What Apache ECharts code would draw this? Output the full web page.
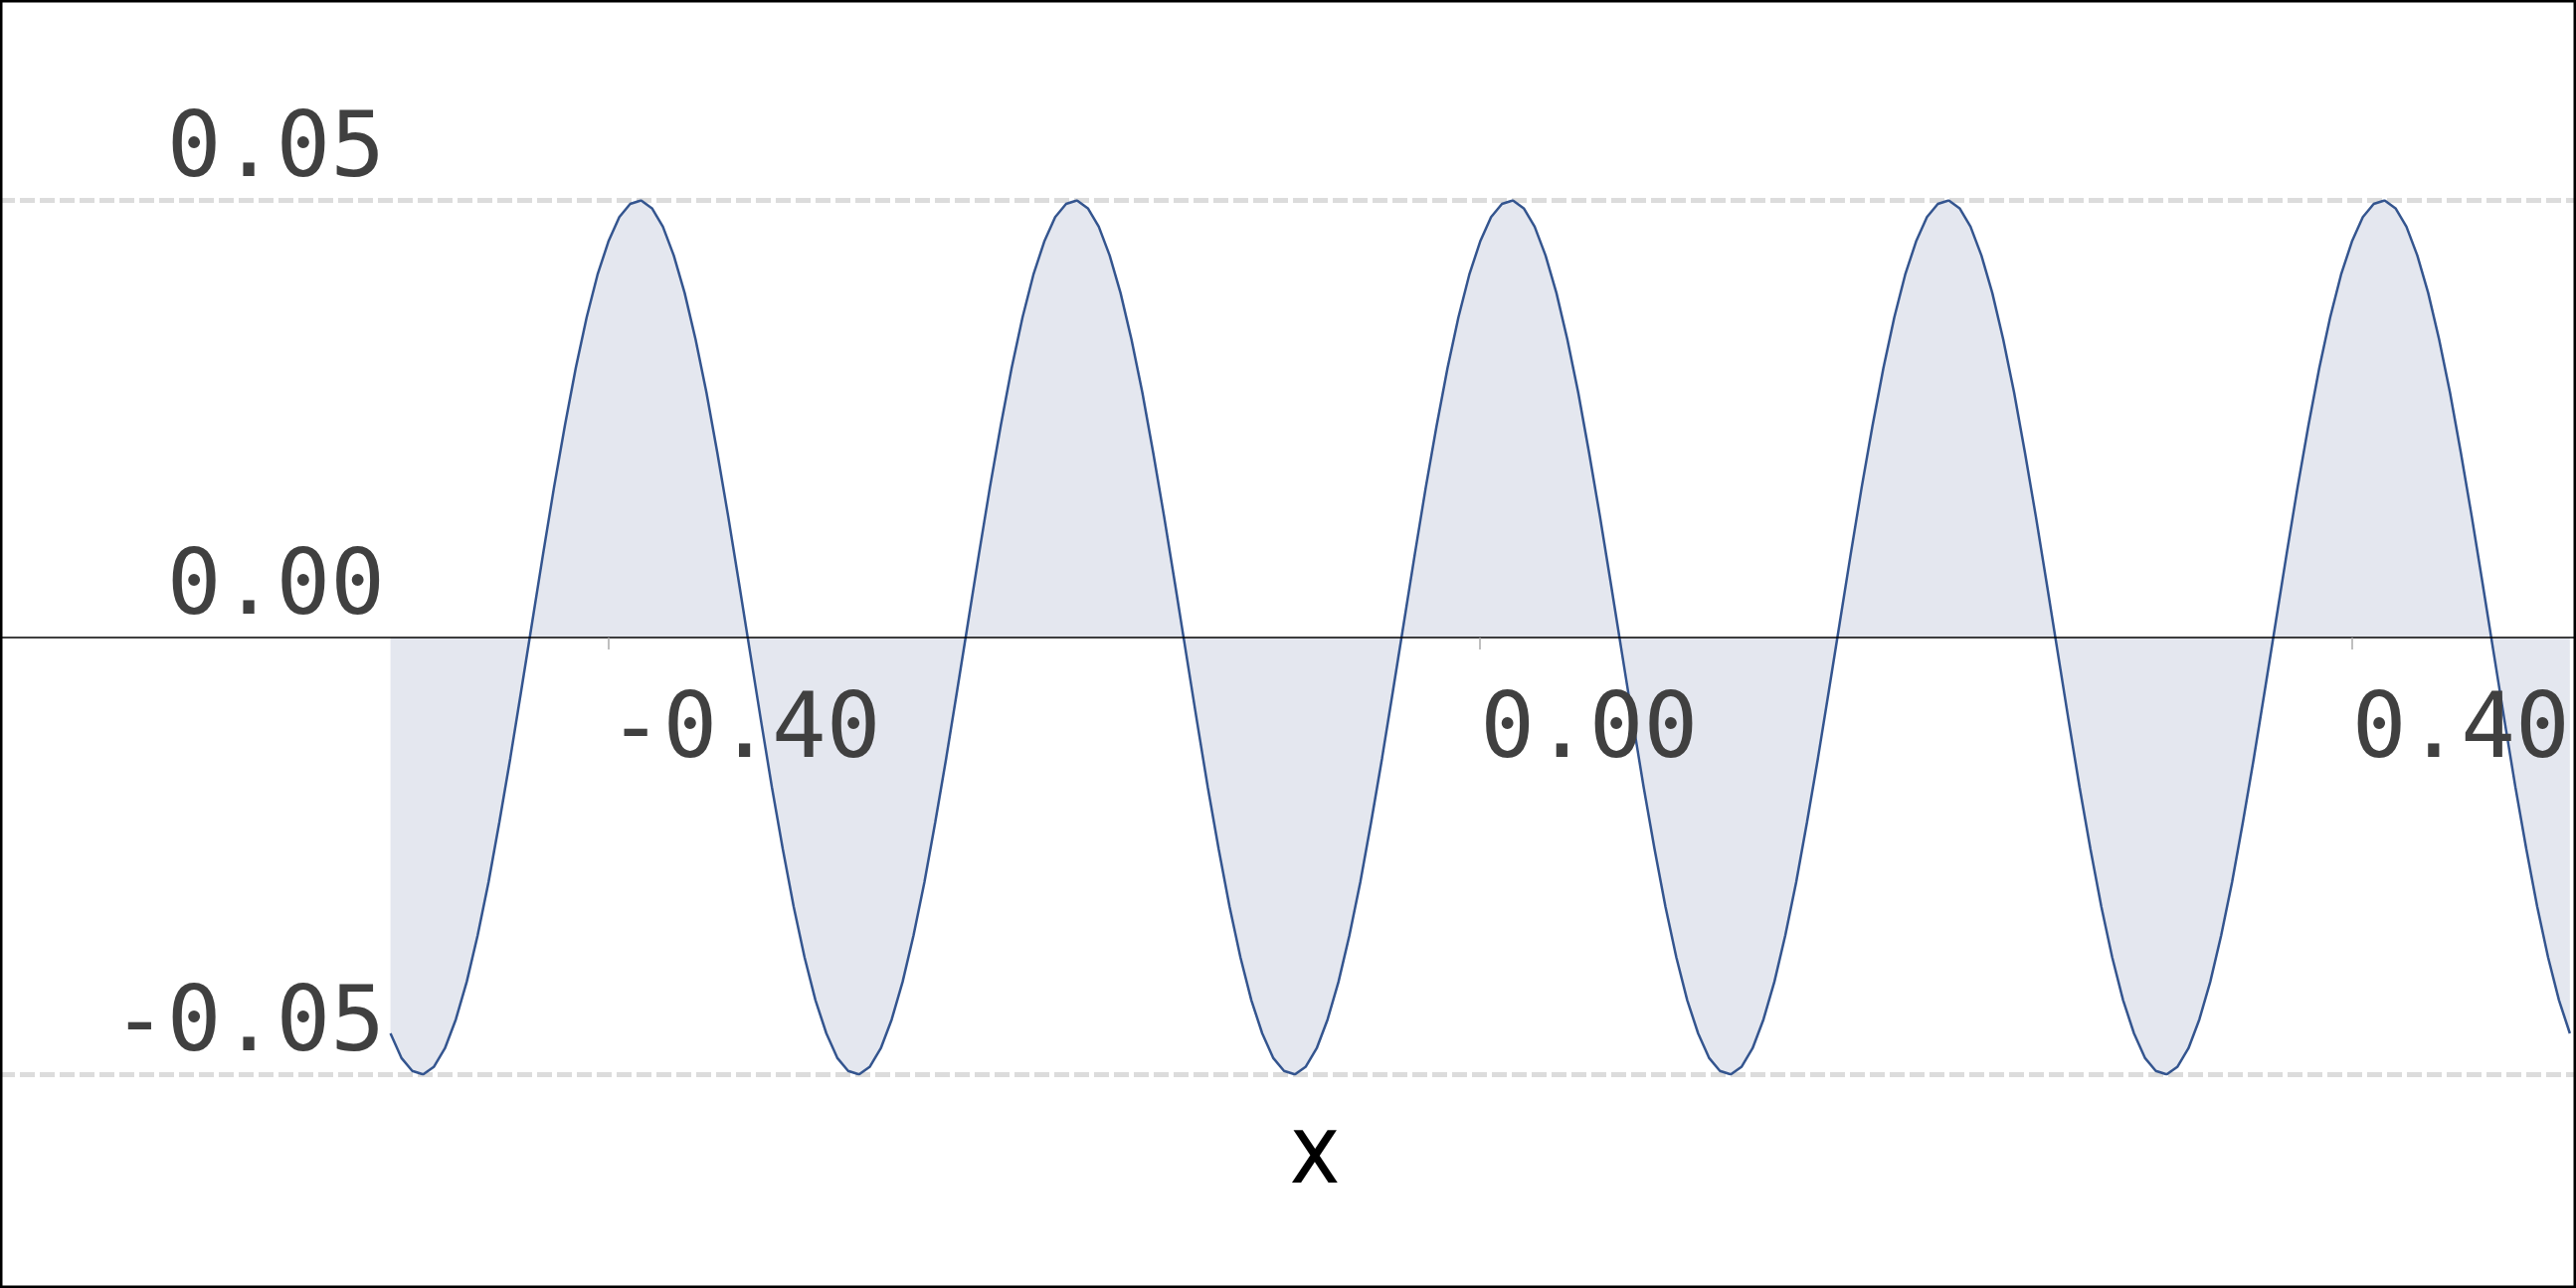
<!DOCTYPE html>
<html>
<head>
<meta charset="utf-8">
<script src="https://cdn.jsdelivr.net/npm/echarts@6/dist/echarts.min.js"></script>
<style>
html,body{margin:0;padding:0;background:#fff;}
#chart{width:2590px;height:1295px;}
</style>
</head>
<body>
<div id="chart"></div>
<script>
// sample positions (x)
var xValues = [
-0.5,-0.495,-0.49,-0.485,-0.48,-0.475,-0.47,-0.465,-0.46,-0.455,-0.45,-0.445,-0.44,-0.435,-0.43,-0.425,-0.42,-0.415,-0.41,-0.405,
-0.4,-0.395,-0.39,-0.385,-0.38,-0.375,-0.37,-0.365,-0.36,-0.355,-0.35,-0.345,-0.34,-0.335,-0.33,-0.325,-0.32,-0.315,-0.31,-0.305,
-0.3,-0.295,-0.29,-0.285,-0.28,-0.275,-0.27,-0.265,-0.26,-0.255,-0.25,-0.245,-0.24,-0.235,-0.23,-0.225,-0.22,-0.215,-0.21,-0.205,
-0.2,-0.195,-0.19,-0.185,-0.18,-0.175,-0.17,-0.165,-0.16,-0.155,-0.15,-0.145,-0.14,-0.135,-0.13,-0.125,-0.12,-0.115,-0.11,-0.105,
-0.1,-0.095,-0.09,-0.085,-0.08,-0.075,-0.07,-0.065,-0.06,-0.055,-0.05,-0.045,-0.04,-0.035,-0.03,-0.025,-0.02,-0.015,-0.01,-0.005,
0,0.005,0.01,0.015,0.02,0.025,0.03,0.035,0.04,0.045,0.05,0.055,0.06,0.065,0.07,0.075,0.08,0.085,0.09,0.095,
0.1,0.105,0.11,0.115,0.12,0.125,0.13,0.135,0.14,0.145,0.15,0.155,0.16,0.165,0.17,0.175,0.18,0.185,0.19,0.195,
0.2,0.205,0.21,0.215,0.22,0.225,0.23,0.235,0.24,0.245,0.25,0.255,0.26,0.265,0.27,0.275,0.28,0.285,0.29,0.295,
0.3,0.305,0.31,0.315,0.32,0.325,0.33,0.335,0.34,0.345,0.35,0.355,0.36,0.365,0.37,0.375,0.38,0.385,0.39,0.395,
0.4,0.405,0.41,0.415,0.42,0.425,0.43,0.435,0.44,0.445,0.45,0.455,0.46,0.465,0.47,0.475,0.48,0.485,0.49,0.495,
0.5
];
// series values (y)
var yValues = [
-0.0453,-0.0481,-0.0496,-0.0500,-0.0491,-0.0470,-0.0437,-0.0394,-0.0341,-0.0280,-0.0211,-0.0138,-0.0061,0.0017,0.0095,0.0171,0.0242,0.0308,0.0366,0.0415,
0.0453,0.0481,0.0496,0.0500,0.0491,0.0470,0.0437,0.0394,0.0341,0.0280,0.0211,0.0138,0.0061,-0.0017,-0.0095,-0.0171,-0.0242,-0.0308,-0.0366,-0.0415,
-0.0453,-0.0481,-0.0496,-0.0500,-0.0491,-0.0470,-0.0437,-0.0394,-0.0341,-0.0280,-0.0211,-0.0138,-0.0061,0.0017,0.0095,0.0171,0.0242,0.0308,0.0366,0.0415,
0.0453,0.0481,0.0496,0.0500,0.0491,0.0470,0.0437,0.0394,0.0341,0.0280,0.0211,0.0138,0.0061,-0.0017,-0.0095,-0.0171,-0.0242,-0.0308,-0.0366,-0.0415,
-0.0453,-0.0481,-0.0496,-0.0500,-0.0491,-0.0470,-0.0437,-0.0394,-0.0341,-0.0280,-0.0211,-0.0138,-0.0061,0.0017,0.0095,0.0171,0.0242,0.0308,0.0366,0.0415,
0.0453,0.0481,0.0496,0.0500,0.0491,0.0470,0.0437,0.0394,0.0341,0.0280,0.0211,0.0138,0.0061,-0.0017,-0.0095,-0.0171,-0.0242,-0.0308,-0.0366,-0.0415,
-0.0453,-0.0481,-0.0496,-0.0500,-0.0491,-0.0470,-0.0437,-0.0394,-0.0341,-0.0280,-0.0211,-0.0138,-0.0061,0.0017,0.0095,0.0171,0.0242,0.0308,0.0366,0.0415,
0.0453,0.0481,0.0496,0.0500,0.0491,0.0470,0.0437,0.0394,0.0341,0.0280,0.0211,0.0138,0.0061,-0.0017,-0.0095,-0.0171,-0.0242,-0.0308,-0.0366,-0.0415,
-0.0453,-0.0481,-0.0496,-0.0500,-0.0491,-0.0470,-0.0437,-0.0394,-0.0341,-0.0280,-0.0211,-0.0138,-0.0061,0.0017,0.0095,0.0171,0.0242,0.0308,0.0366,0.0415,
0.0453,0.0481,0.0496,0.0500,0.0491,0.0470,0.0437,0.0394,0.0341,0.0280,0.0211,0.0138,0.0061,-0.0017,-0.0095,-0.0171,-0.0242,-0.0308,-0.0366,-0.0415,
-0.0453
];
// tick labels
var xTicks = [-0.4, 0, 0.4];
var yTicks = [-0.05, 0, 0.05];
var xTitle = 'x';

var data = xValues.map(function (x, i) { return [x, yValues[i]]; });

var chart = echarts.init(document.getElementById('chart'), null, {renderer: 'canvas'});
var monoFont = '"DejaVu Sans Mono", "Liberation Mono", monospace';
chart.setOption({
  animation: false,
  backgroundColor: '#ffffff',
  grid: {left: 0, right: 0, top: 201.5, bottom: 214.7, containLabel: false},
  xAxis: {
    type: 'value',
    min: -0.67916,
    max: 0.50281,
    z: 10,
    axisLine: {onZero: true, lineStyle: {color: '#000000', width: 1.5}},
    axisTick: {show: true, customValues: xTicks, length: 12, lineStyle: {color: '#aaaaaa', width: 1.5}},
    axisLabel: {
      customValues: xTicks,
      formatter: function (v) { return v.toFixed(2); },
      fontFamily: monoFont, fontSize: 91, color: '#404040',
      align: 'left', verticalAlign: 'top', margin: -388,
      lineHeight: 90
    },
    splitLine: {show: false}
  },
  yAxis: {
    type: 'value',
    min: -0.05, max: 0.05, interval: 0.05,
    offset: -393,
    axisLine: {show: false},
    axisTick: {show: false},
    axisLabel: {
      customValues: yTicks,
      formatter: function (v) { return v.toFixed(2); },
      fontFamily: monoFont, fontSize: 91, color: '#404040',
      align: 'right', verticalAlign: 'bottom', margin: 6,
      lineHeight: 96
    },
    splitLine: {show: true, lineStyle: {color: ['#dcdcdc', 'rgba(0,0,0,0)', '#dcdcdc'], width: 5, type: [15, 5]}}
  },
  series: [{
    type: 'line',
    data: data,
    showSymbol: false,
    symbol: 'none',
    lineStyle: {color: '#34558f', width: 2.5},
    areaStyle: {color: '#e4e7ef', opacity: 1},
    z: 1
  }],
  graphic: [
    {
      type: 'text', x: 1322, y: 1164,
      style: {text: xTitle, textAlign: 'center', textVerticalAlign: 'middle', font: '96px "Liberation Sans Narrow", "DejaVu Sans Condensed", "Roboto Condensed", Roboto, sans-serif', fill: '#000000'}
    },
    {
      type: 'rect', shape: {x: 1.25, y: 1.25, width: 2587.5, height: 1292.5},
      style: {fill: null, stroke: '#000000', lineWidth: 2.5}, silent: true, z: 100
    }
  ]
});
</script>
</body>
</html>
